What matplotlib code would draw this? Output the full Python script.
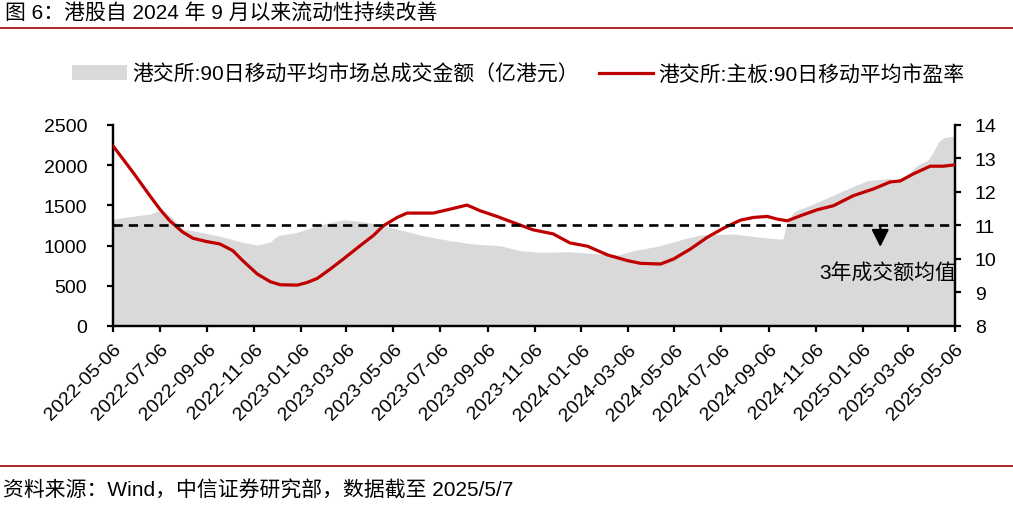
import numpy as np
import pandas as pd
import matplotlib
matplotlib.use("Agg")
import matplotlib.pyplot as plt

plt.rcParams['font.family'] = ['Liberation Sans', 'Noto Sans CJK SC', 'DejaVu Sans']

# 港交所:90日移动平均市场总成交金额（亿港元）
vol_dates = ["2022-05-06", "2022-06-01", "2022-06-23", "2022-07-06", "2022-07-19",
             "2022-08-05", "2022-08-27", "2022-09-26", "2022-10-22", "2022-11-10",
             "2022-11-27", "2022-12-06", "2023-01-01", "2023-01-27", "2023-03-02",
             "2023-03-28", "2023-04-23", "2023-05-19", "2023-06-14", "2023-07-19",
             "2023-08-18", "2023-09-22", "2023-10-18", "2023-11-13", "2023-12-19",
             "2024-01-30", "2024-02-22", "2024-03-14", "2024-04-18", "2024-05-18",
             "2024-06-09", "2024-07-22", "2024-08-26", "2024-09-24", "2024-09-30",
             "2024-10-08", "2024-11-12", "2024-12-12", "2025-01-12", "2025-02-11",
             "2025-02-14", "2025-03-05", "2025-03-18", "2025-04-01", "2025-04-08",
             "2025-04-15", "2025-04-21", "2025-05-06"]
vol_values = [1331, 1364, 1393, 1434, 1372,
              1206, 1169, 1107, 1041, 1007,
              1045, 1123, 1165, 1248, 1322,
              1297, 1248, 1186, 1123, 1061,
              1020, 999, 937, 916, 924,
              896, 883, 937, 999, 1082,
              1132, 1144, 1103, 1078, 1290,
              1418, 1555, 1683, 1807, 1837,
              1785, 1873, 1998, 2061, 2165,
              2290, 2340, 2364]

# 港交所:主板:90日移动平均市盈率
pe_dates = ["2022-05-06", "2022-06-01", "2022-06-23", "2022-07-06", "2022-07-19",
            "2022-08-05", "2022-08-18", "2022-09-05", "2022-09-22", "2022-10-09",
            "2022-10-22", "2022-11-10", "2022-11-27", "2022-12-10", "2023-01-01",
            "2023-01-14", "2023-01-27", "2023-02-13", "2023-03-02", "2023-03-24",
            "2023-04-10", "2023-04-23", "2023-05-11", "2023-05-24", "2023-06-27",
            "2023-07-23", "2023-08-10", "2023-08-27", "2023-09-18", "2023-10-09",
            "2023-11-04", "2023-11-30", "2023-12-22", "2024-01-14", "2024-02-09",
            "2024-03-06", "2024-03-23", "2024-04-18", "2024-05-05", "2024-05-27",
            "2024-06-18", "2024-07-09", "2024-07-31", "2024-08-17", "2024-09-04",
            "2024-09-17", "2024-09-30", "2024-10-17", "2024-11-08", "2024-11-29",
            "2024-12-25", "2025-01-20", "2025-02-11", "2025-02-24", "2025-03-13",
            "2025-04-04", "2025-04-21", "2025-05-06"]
pe_values = [13.38, 12.59, 11.89, 11.49, 11.14,
             10.80, 10.62, 10.52, 10.45, 10.25,
             9.95, 9.55, 9.32, 9.23, 9.22,
             9.30, 9.42, 9.70, 10.00, 10.40,
             10.70, 10.99, 11.24, 11.37, 11.37,
             11.51, 11.61, 11.44, 11.27, 11.09,
             10.87, 10.75, 10.48, 10.38, 10.12,
             9.95, 9.87, 9.85, 10.00, 10.30,
             10.65, 10.92, 11.16, 11.24, 11.27,
             11.19, 11.14, 11.29, 11.47, 11.59,
             11.89, 12.09, 12.30, 12.33, 12.54,
             12.77, 12.77, 12.81]

avg_pe_line = 11  # 3年成交额均值 (drawn at ~1250 on left axis)
tick_labels = ["2022-05-06", "2022-07-06", "2022-09-06", "2022-11-06",
               "2023-01-06", "2023-03-06", "2023-05-06", "2023-07-06",
               "2023-09-06", "2023-11-06", "2024-01-06", "2024-03-06",
               "2024-05-06", "2024-07-06", "2024-09-06", "2024-11-06",
               "2025-01-06", "2025-03-06", "2025-05-06"]

vd = pd.to_datetime(vol_dates)
pdt = pd.to_datetime(pe_dates)
tick_dates = pd.to_datetime(tick_labels)

fig = plt.figure(figsize=(10.13, 5.06), dpi=100)
ax = fig.add_axes([0.1115, 0.3538, 0.831, 0.3972])
ax2 = ax.twinx()

ax.fill_between(vd, 0, vol_values, color='#D9D9D9', lw=0, label='港交所:90日移动平均市场总成交金额（亿港元）')
ax2.plot(pdt, pe_values, color='#C00000', lw=2.3, label='港交所:主板:90日移动平均市盈率', zorder=3)
ax2.axhline(avg_pe_line, color='black', lw=1.9, dashes=(3.5, 2.3), zorder=4)

ax.set_ylim(0, 2500)
ax.set_yticks(range(0, 2501, 500))
ax2.set_ylim(8, 14)
ax2.set_yticks(range(8, 15))
ax.set_xlim(vd[0], vd[-1])

ax.set_xticks(tick_dates)
ax.set_xticklabels(tick_labels, rotation=45, ha='right', va='top', rotation_mode='anchor')

for a in (ax, ax2):
    a.spines['top'].set_visible(False)
    for s in a.spines.values():
        s.set_linewidth(1.6)
ax.tick_params(axis='y', length=4.5, width=1.6, pad=14, labelsize=14)
ax.tick_params(axis='x', length=4.5, width=1.6, pad=6, labelsize=14)
ax2.tick_params(axis='y', length=4.5, width=1.6, pad=10, labelsize=14)

# arrow and text for the average line
arrow_x = pd.Timestamp("2025-01-29")
ax2.annotate('', xy=(arrow_x, 10.36), xytext=(arrow_x, 10.97),
             arrowprops=dict(arrowstyle='-|>', mutation_scale=26, color='black', lw=1.6,
                             shrinkA=0, shrinkB=0))
ax2.text(pd.Timestamp("2024-11-10"), 9.61, '3年成交额均值', fontsize=15,
         ha='left', va='center', clip_on=True)

h1, l1 = ax.get_legend_handles_labels()
h2, l2 = ax2.get_legend_handles_labels()
fig.legend(h1 + h2, l1 + l2, loc='center', bbox_to_anchor=(0.512, 0.852), ncol=2,
           frameon=False, fontsize=15, handlelength=2.6, handletextpad=0.25,
           columnspacing=1.0)

fig.text(0.005, 1 - 14 / 506, '图 6：港股自 2024 年 9 月以来流动性持续改善', fontsize=15,
         ha='left', va='center')
fig.add_artist(plt.Line2D([0, 1], [1 - 29 / 506, 1 - 29 / 506], color='#A00000', lw=1.2))
fig.add_artist(plt.Line2D([0, 1], [1 - 467 / 506, 1 - 467 / 506], color='#A00000', lw=1.2))
fig.text(0.003, 1 - 490 / 506, '资料来源：Wind，中信证券研究部，数据截至 2025/5/7', fontsize=15,
         ha='left', va='center')

fig.savefig('out.png', dpi=100)
